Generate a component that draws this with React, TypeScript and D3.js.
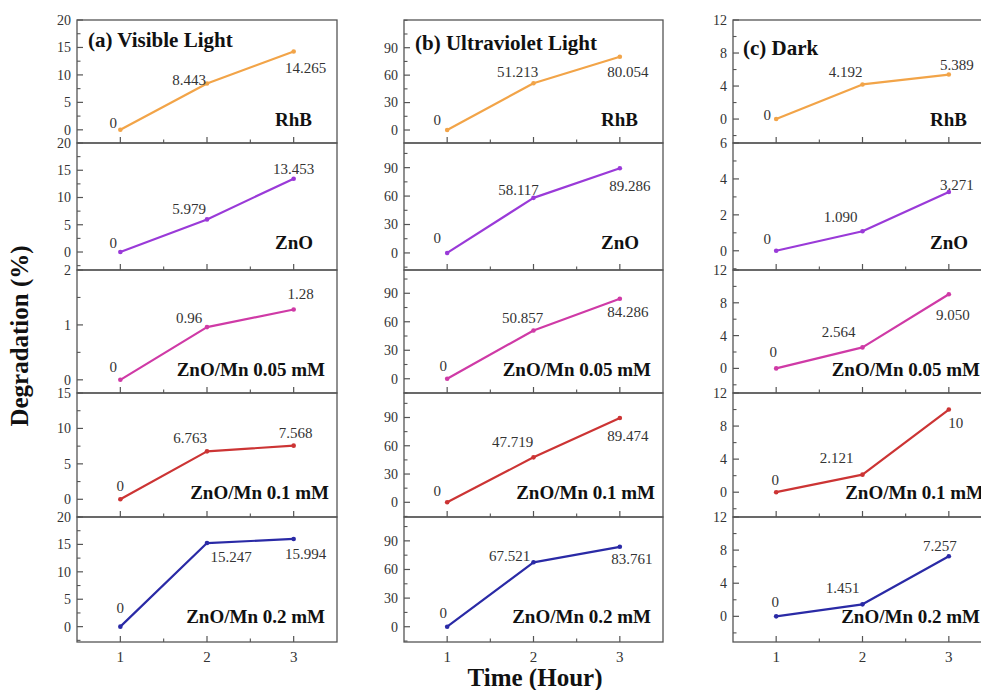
import React from "react";
import * as d3 from "d3";

// ---------- data ----------
const hours = [1, 2, 3];
const samples = ["RhB", "ZnO", "ZnO/Mn 0.05 mM", "ZnO/Mn 0.1 mM", "ZnO/Mn 0.2 mM"];
const conditions = ["(a) Visible Light", "(b) Ultraviolet Light", "(c) Dark"];

const visibleValues = [
  [0, 8.443, 14.265],
  [0, 5.979, 13.453],
  [0, 0.96, 1.28],
  [0, 6.763, 7.568],
  [0, 15.247, 15.994],
];
const visibleLabels = [
  ["0", "8.443", "14.265"],
  ["0", "5.979", "13.453"],
  ["0", "0.96", "1.28"],
  ["0", "6.763", "7.568"],
  ["0", "15.247", "15.994"],
];
const uvValues = [
  [0, 51.213, 80.054],
  [0, 58.117, 89.286],
  [0, 50.857, 84.286],
  [0, 47.719, 89.474],
  [0, 67.521, 83.761],
];
const uvLabels = [
  ["0", "51.213", "80.054"],
  ["0", "58.117", "89.286"],
  ["0", "50.857", "84.286"],
  ["0", "47.719", "89.474"],
  ["0", "67.521", "83.761"],
];
const darkValues = [
  [0, 4.192, 5.389],
  [0, 1.09, 3.271],
  [0, 2.564, 9.05],
  [0, 2.121, 10],
  [0, 1.451, 7.257],
];
const darkLabels = [
  ["0", "4.192", "5.389"],
  ["0", "1.090", "3.271"],
  ["0", "2.564", "9.050"],
  ["0", "2.121", "10"],
  ["0", "1.451", "7.257"],
];

// y tick values
const visibleTicks = [
  [0, 5, 10, 15, 20],
  [0, 5, 10, 15, 20],
  [0, 1, 2],
  [0, 5, 10, 15],
  [0, 5, 10, 15, 20],
];
const uvTicks = [
  [0, 30, 60, 90],
  [0, 30, 60, 90],
  [0, 30, 60, 90],
  [0, 30, 60, 90],
  [0, 30, 60, 90],
];
const darkTicks = [
  [0, 4, 8, 12],
  [0, 2, 4, 6],
  [0, 4, 8, 12],
  [0, 4, 8, 12],
  [0, 4, 8, 12],
];

// ---------- layout / style ----------
const W = 981;
const H = 690;
const colLeft = [77, 404, 733];
const colRight = [337, 663, 992];
const rowBounds = [20, 143, 270, 393, 517, 642];

const yDomains = [
  [[-2.4, 20], [-3.3, 20], [-0.24, 2], [-2.5, 15], [-2.8, 20]],
  [[-14.2, 120.3], [-18, 116], [-15, 114.5], [-15.6, 116], [-16, 115]],
  [[-2.9, 12], [-1.07, 6], [-3, 12], [-3, 12], [-3.1, 12]],
];
const minorSteps = [
  [2.5, 2.5, 0.5, 2.5, 2.5],
  [15, 15, 15, 15, 15],
  [2, 1, 2, 2, 2],
];
const labelOffsets = [
  [
    [[-7, -7], [-18, -4], [12, 16]],
    [[-7, -9], [-18, -11], [0, -10]],
    [[-7, -13], [-18, -9], [7, -16]],
    [[0, -14], [-17, -14], [2, -13]],
    [[0, -19], [24, 14], [12, 15]],
  ],
  [
    [[-10, -10], [-16, -11.5], [8, 15]],
    [[-10, -15], [-15, -8], [10, 17]],
    [[-4, -13], [-11, -13], [8, 13]],
    [[-10, -12], [-21, -16], [8, 18]],
    [[-4, -14], [-24, -7], [12, 12]],
  ],
  [
    [[-9, -4], [-17, -13], [8, -10]],
    [[-9, -12], [-22, -14], [8, -7]],
    [[-3, -17], [-24, -16], [4, 21]],
    [[-1, -12], [-26, -16.5], [7, 13.5]],
    [[-1, -15], [-20, -17], [-9, -11]],
  ],
];
const sampleRightOffset = [25, 24, 12, 8, 12];
const titlePos = [
  [88, 47],
  [415, 50],
  [743, 55],
];
const lineColors = ["#f2a448", "#9a3ad8", "#cf3aa6", "#cc3434", "#2a2aa6"];
const axisColor = "#555";
const textColor = "#333";
const FONT = "'Liberation Serif', 'Times New Roman', serif";

const allValues = [visibleValues, uvValues, darkValues];
const allLabels = [visibleLabels, uvLabels, darkLabels];
const allTicks = [visibleTicks, uvTicks, darkTicks];

function Panel({ c, r }: { c: number; r: number }) {
  const x0 = colLeft[c];
  const x1 = colRight[c];
  const y0 = rowBounds[r];
  const y1 = rowBounds[r + 1];
  const x = d3.scaleLinear().domain([0.5, 3.5]).range([x0, x1]);
  const dom = yDomains[c][r];
  const y = d3.scaleLinear().domain(dom).range([y1, y0]);
  const vals = allValues[c][r];
  const labs = allLabels[c][r];
  const ticks = allTicks[c][r];
  const step = minorSteps[c][r];
  const minor = d3
    .range(Math.ceil(dom[0] / step) * step, dom[1] + 1e-9, step)
    .filter((v) => !ticks.some((t) => Math.abs(t - v) < 1e-9));
  const line = d3
    .line<number>()
    .x((_, i) => x(hours[i]))
    .y((d) => y(d));
  const color = lineColors[r];
  const isBottom = r === 4;
  return (
    <g>
      <rect x={x0} y={y0} width={x1 - x0} height={y1 - y0} fill="none" stroke={axisColor} strokeWidth={1.3} />
      {ticks.map((t) => (
        <g key={"t" + t}>
          <line x1={x0} x2={x0 + 6} y1={y(t)} y2={y(t)} stroke={axisColor} strokeWidth={1.2} />
          <text
            x={x0 - 6}
            y={y(t)}
            dy="0.35em"
            textAnchor="end"
            fontSize={14}
            fill={textColor}
            fontFamily={FONT}
          >
            {t}
          </text>
        </g>
      ))}
      {minor.map((t) => (
        <line key={"m" + t} x1={x0} x2={x0 + 3.5} y1={y(t)} y2={y(t)} stroke={axisColor} strokeWidth={1.1} />
      ))}
      {hours.map((h) => (
        <line key={"xt" + h} x1={x(h)} x2={x(h)} y1={y1} y2={y1 - 6} stroke={axisColor} strokeWidth={1.2} />
      ))}
      {[1.5, 2.5].map((h) => (
        <line key={"xm" + h} x1={x(h)} x2={x(h)} y1={y1} y2={y1 - 3.5} stroke={axisColor} strokeWidth={1.1} />
      ))}
      {isBottom &&
        hours.map((h) => (
          <text
            key={"xl" + h}
            x={x(h)}
            y={y1 + 20}
            textAnchor="middle"
            fontSize={15}
            fill={textColor}
            fontFamily={FONT}
          >
            {h}
          </text>
        ))}
      <path d={line(vals) || ""} fill="none" stroke={color} strokeWidth={2.2} strokeLinejoin="round" />
      {vals.map((v, i) => (
        <circle key={"p" + i} cx={x(hours[i])} cy={y(v)} r={2.3} fill={color} />
      ))}
      {vals.map((v, i) => {
        const off = labelOffsets[c][r][i];
        return (
          <text
            key={"l" + i}
            x={x(hours[i]) + off[0]}
            y={y(v) + off[1]}
            dy="0.35em"
            textAnchor="middle"
            fontSize={15}
            fill={textColor}
            fontFamily={FONT}
          >
            {labs[i]}
          </text>
        );
      })}
      <text
        x={x1 - sampleRightOffset[r]}
        y={y0 + 106}
        textAnchor="end"
        fontSize={19}
        fontWeight="bold"
        fill="#111"
        fontFamily={FONT}
      >
        {samples[r]}
      </text>
    </g>
  );
}

export default function App() {
  return (
    <svg
      width={W}
      height={H}
      viewBox={`0 0 ${W} ${H}`}
      style={{ position: "absolute", left: 0, top: 0, background: "#fff" }}
    >
      <rect x={0} y={0} width={W} height={H} fill="#fff" />
      {conditions.map((_, c) =>
        samples.map((_, r) => <Panel key={c + "-" + r} c={c} r={r} />)
      )}
      {conditions.map((t, c) => (
        <text
          key={"title" + c}
          x={titlePos[c][0]}
          y={titlePos[c][1]}
          fontSize={21}
          fontWeight="bold"
          fill="#111"
          fontFamily={FONT}
        >
          {t}
        </text>
      ))}
      <text
        transform="translate(28,336) rotate(-90)"
        textAnchor="middle"
        fontSize={25}
        fontWeight="bold"
        fill="#111"
        fontFamily={FONT}
      >
        Degradation (%)
      </text>
      <text
        x={535}
        y={686}
        textAnchor="middle"
        fontSize={25}
        fontWeight="bold"
        fill="#111"
        fontFamily={FONT}
      >
        Time (Hour)
      </text>
    </svg>
  );
}
